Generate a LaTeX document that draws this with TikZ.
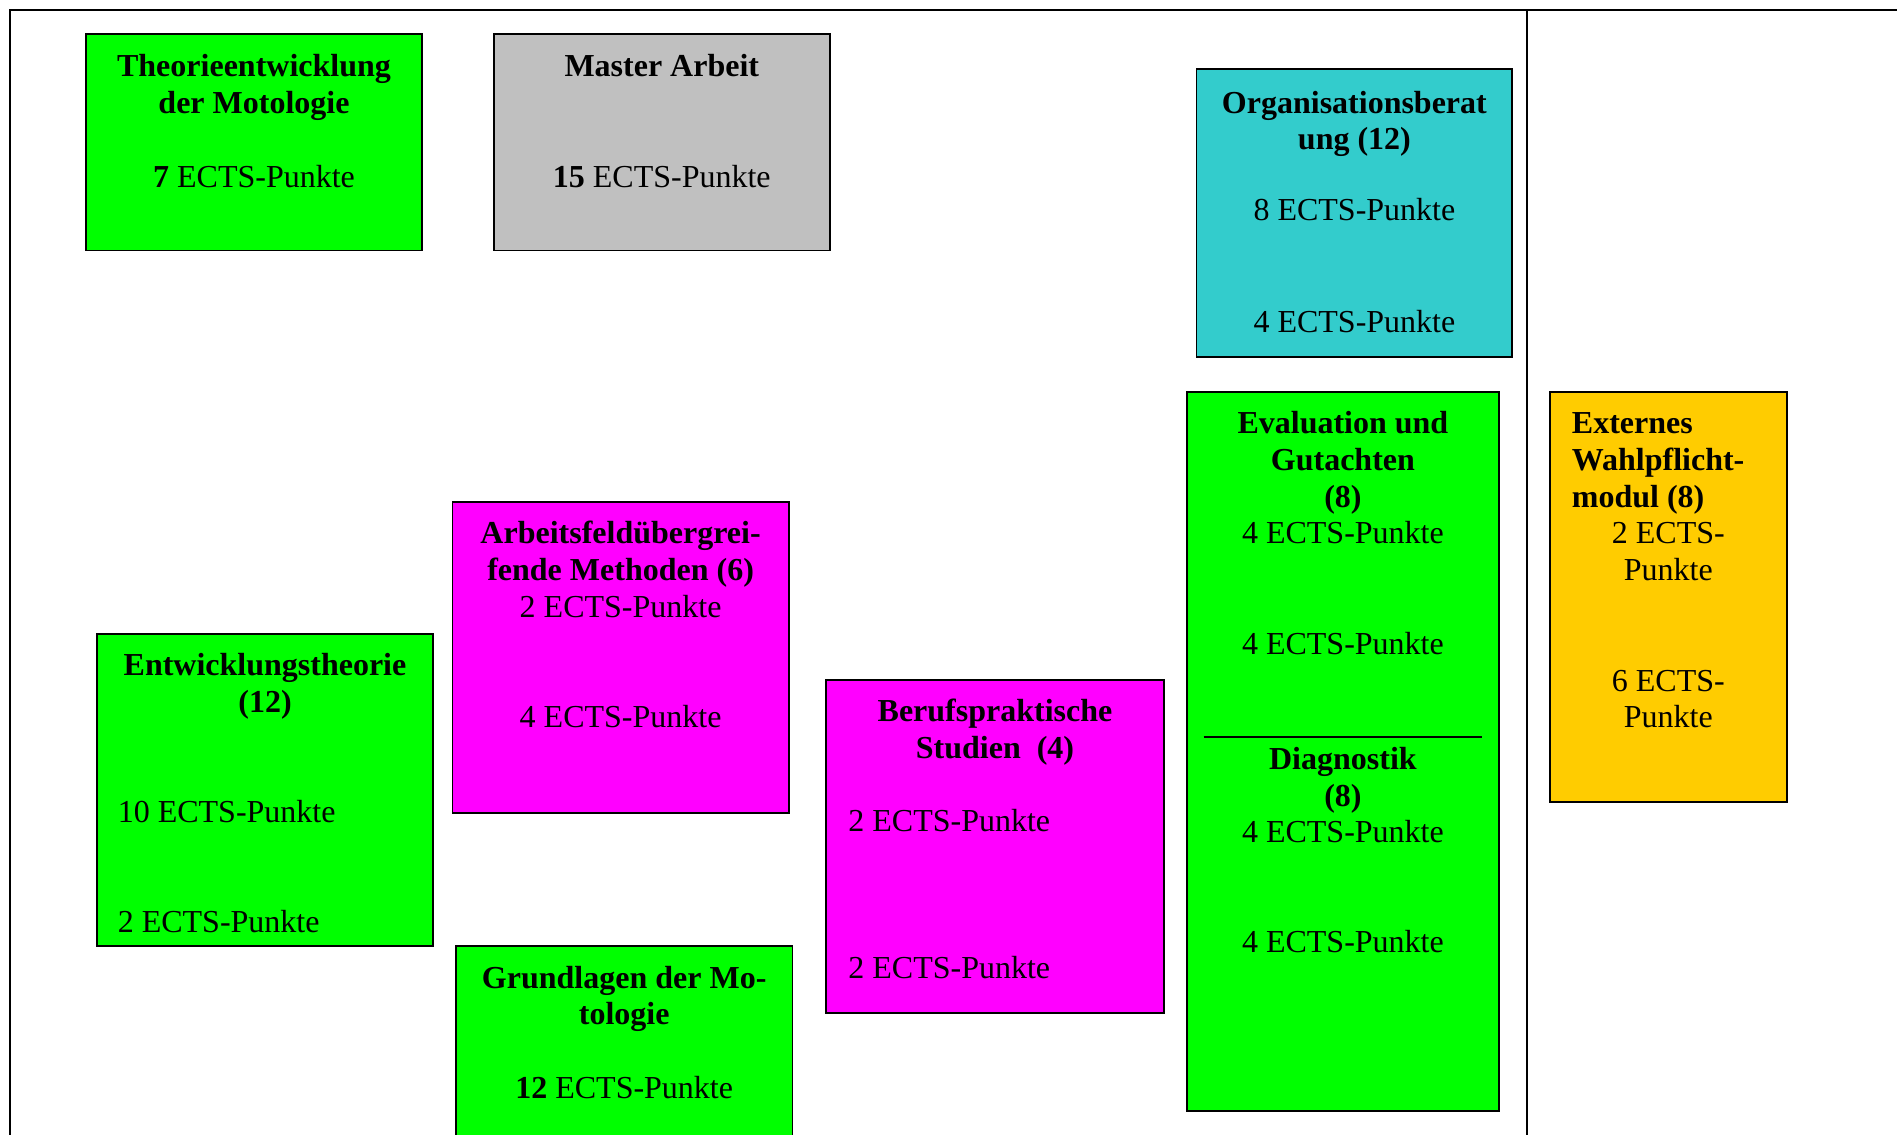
\documentclass[tikz,border=0pt]{standalone}
\usepackage{fontspec}
\setmainfont{Liberation Serif}
\definecolor{mgreen}{HTML}{00FF00}
\definecolor{mgray}{HTML}{C0C0C0}
\definecolor{mcyan}{HTML}{33CCCC}
\definecolor{mmag}{HTML}{FF00FF}
\definecolor{myel}{HTML}{FFCC00}
\begin{document}
\begin{tikzpicture}[x=0.5pt,y=-0.5pt,
  box/.style={draw=black,line width=0.9pt,inner sep=0pt,outer sep=0pt,anchor=north west},
  txt/.style={anchor=base,inner sep=0pt,font=\fontsize{16}{18.4}\selectfont,yshift=-0.5pt},
  txtl/.style={txt,anchor=base west},
  frame/.style={draw=black,line width=0.8pt}]
\useasboundingbox (0,0) rectangle (1897,1135);
\clip (0,0) rectangle (1897,1135);
% frame
\coordinate (ftl) at (9.7,9.7);
\coordinate (ftr) at (1900,9.7);
\coordinate (fbl) at (9.7,1140);
\coordinate (dtop) at (1527,9.7);
\coordinate (dbot) at (1527,1140);
\draw[frame] (fbl) -- (ftl) -- (ftr);
\draw[frame] (dtop) -- (dbot);
% boxes
\node[box,fill=mgreen,minimum width=168.2pt,minimum height=108.3pt] (theo) at (85.9,33.9) {};
\node[box,fill=mgray,minimum width=168.2pt,minimum height=108.3pt] (master) at (493.6,33.9) {};
\node[box,fill=mcyan,minimum width=157.9pt,minimum height=143.9pt] (org) at (1196.5,69) {};
\node[box,fill=mgreen,minimum width=156.1pt,minimum height=359.3pt] (evdi) at (1186.8,392) {};
\node[box,fill=myel,minimum width=118.6pt,minimum height=205pt] (ext) at (1549.7,392) {};
\node[box,fill=mmag,minimum width=168.2pt,minimum height=155.5pt] (arb) at (452.5,502) {};
\node[box,fill=mgreen,minimum width=168.2pt,minimum height=156pt] (ent) at (96.8,634) {};
\node[box,fill=mmag,minimum width=168.8pt,minimum height=166.3pt] (ber) at (826.3,680) {};
\node[box,fill=mgreen,minimum width=168.2pt,minimum height=110pt] (gru) at (456,946) {};
% divider in Evaluation/Diagnostik
\coordinate (dl) at (1203.7,736.8);
\coordinate (dr) at (1482,736.8);
\draw[line width=0.9pt] (dl) -- (dr);
% Theorie
\node[txt] (theo1) at (254,75.9) {\textbf{Theorieentwicklung}};
\node[txt] (theo2) at (254,112.2) {\textbf{der Motologie}};
\node[txt] (theo3) at (254,186) {\textbf{7} ECTS-Punkte};
% Master
\node[txt] (mas1) at (661.8,75.9) {\textbf{Master Arbeit}};
\node[txt] (mas2) at (661.8,186) {\textbf{15} ECTS-Punkte};
% Organisationsberatung
\node[txt] (org1) at (1354.4,112.2) {\textbf{Organisationsberat}};
\node[txt] (org2) at (1354.4,148.5) {\textbf{ung (12)}};
\node[txt] (org3) at (1354.4,219.9) {8 ECTS-Punkte};
\node[txt] (org4) at (1354.4,331.2) {4 ECTS-Punkte};
% Evaluation / Diagnostik
\node[txt] (ev1) at (1342.9,432.8) {\textbf{Evaluation und}};
\node[txt] (ev2) at (1342.9,469.1) {\textbf{Gutachten}};
\node[txt] (ev3) at (1342.9,506.6) {\textbf{(8)}};
\node[txt] (ev4) at (1342.9,542.9) {4 ECTS-Punkte};
\node[txt] (ev5) at (1342.9,653) {4 ECTS-Punkte};
\node[txt] (di1) at (1342.9,768) {\textbf{Diagnostik}};
\node[txt] (di2) at (1342.9,805.4) {\textbf{(8)}};
\node[txt] (di3) at (1342.9,841.7) {4 ECTS-Punkte};
\node[txt] (di4) at (1342.9,951.8) {4 ECTS-Punkte};
% Externes
\node[txtl] (ex1) at (1571.5,432.8) {\textbf{Externes}};
\node[txtl] (ex2) at (1571.5,469.1) {\textbf{Wahlpflicht-}};
\node[txtl] (ex3) at (1571.5,506.6) {\textbf{modul (8)}};
\node[txt] (ex4) at (1668.3,542.9) {2 ECTS-};
\node[txt] (ex5) at (1668.3,579.2) {Punkte};
\node[txt] (ex6) at (1668.3,690.5) {6 ECTS-};
\node[txt] (ex7) at (1668.3,726.8) {Punkte};
% Arbeitsfeld
\node[txt] (arb1) at (620.6,542.9) {\textbf{Arbeitsfeldübergrei-}};
\node[txt] (arb2) at (620.6,579.2) {\textbf{fende Methoden (6)}};
\node[txt] (arb3) at (620.6,616.7) {2 ECTS-Punkte};
\node[txt] (arb4) at (620.6,726.8) {4 ECTS-Punkte};
% Entwicklung
\node[txt] (ent1) at (265,674.8) {\textbf{Entwicklungstheorie}};
\node[txt] (ent2) at (265,711.1) {\textbf{(12)}};
\node[txtl] (ent3) at (117.4,821.2) {10 ECTS-Punkte};
\node[txtl] (ent4) at (117.4,931.3) {2 ECTS-Punkte};
% Berufspraktische
\node[txt] (ber1) at (995,720.8) {\textbf{Berufspraktische}};
\node[txt] (ber2) at (995,757) {\textbf{Studien\ \ (4)}};
\node[txtl] (ber3) at (848,830.8) {2 ECTS-Punkte};
\node[txtl] (ber4) at (848,977.2) {2 ECTS-Punkte};
% Grundlagen
\node[txt] (gru1) at (624.2,987) {\textbf{Grundlagen der Mo-}};
\node[txt] (gru2) at (624.2,1023.2) {\textbf{tologie}};
\node[txt] (gru3) at (624.2,1097) {\textbf{12} ECTS-Punkte};
\end{tikzpicture}
\end{document}
